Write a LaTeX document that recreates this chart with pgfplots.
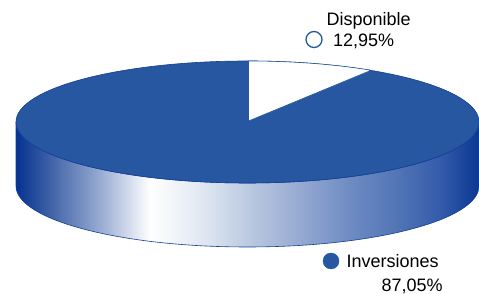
\documentclass[border=0pt]{standalone}
\usepackage{pgfplots}
\pgfplotsset{compat=1.18}
\usepackage{fontspec}
\setmainfont{Liberation Sans}
\definecolor{topblue}{RGB}{38,87,160}
\definecolor{edgeblue}{RGB}{20,62,150}
\definecolor{c0}{RGB}{5,50,145}
\definecolor{c1}{RGB}{60,95,165}
\definecolor{c2}{RGB}{150,170,210}
\definecolor{c4}{RGB}{225,232,242}
\definecolor{c5}{RGB}{195,208,228}
\definecolor{c6}{RGB}{150,170,210}
\definecolor{c7}{RGB}{110,140,195}
\definecolor{c8}{RGB}{80,115,180}
\definecolor{c9}{RGB}{50,90,170}
\definecolor{c10}{RGB}{10,55,145}
\pgfdeclarehorizontalshading{sideshade}{100bp}{color(0bp)=(c0); color(25bp)=(c0); color(28.5bp)=(c1); color(34bp)=(c2); color(39.5bp)=(white); color(45bp)=(c4); color(49bp)=(c5); color(55.5bp)=(c6); color(61bp)=(c7); color(66.5bp)=(c8); color(71bp)=(c9); color(75bp)=(c10); color(100bp)=(c10)}
\begin{document}
\begin{tikzpicture}
\useasboundingbox (0,0) rectangle (479pt,294pt);
\begin{axis}[x=1pt, y=1pt, xmin=0, xmax=479, ymin=0, ymax=294, hide axis, clip=false, at={(0,0)}, anchor=south west]
% side band
\shade[shading=sideshade, draw=edgeblue, line width=0.6pt]
  (axis cs:16,172) -- (axis cs:16,108)
  arc[start angle=180, end angle=360, x radius=231.5, y radius=61]
  -- (axis cs:479,172)
  arc[start angle=0, end angle=-180, x radius=231.5, y radius=61] -- cycle;
% top
\fill[topblue, draw=edgeblue, line width=0.6pt] (axis cs:247.5,172) ellipse[x radius=231.5, y radius=61];
% Disponible wedge (12,95%)
\fill[white, draw=topblue, line width=0.6pt] (axis cs:248.5,173) -- (axis cs:248.5,233)
  arc[start angle=90, end angle=58, x radius=231.5, y radius=61] -- cycle;
% legend markers
\addplot[only marks, mark=o, mark size=8pt, mark options={line width=1.3pt, draw=topblue}] coordinates {(314,254.5)};
\addplot[only marks, mark=*, mark size=8pt, mark options={draw=topblue, fill=topblue}] coordinates {(331,33)};
\node[anchor=base west, font=\fontsize{18}{20}\selectfont, inner sep=0pt] at (axis cs:326.5,268) {Disponible};
\node[anchor=base west, font=\fontsize{18}{20}\selectfont, inner sep=0pt] at (axis cs:333,247) {12,95\%};
\node[anchor=base west, font=\fontsize{18}{20}\selectfont, inner sep=0pt] at (axis cs:346.5,26.7) {Inversiones};
\node[anchor=base west, font=\fontsize{18}{20}\selectfont, inner sep=0pt] at (axis cs:381.5,2.5) {87,05\%};
\end{axis}
\end{tikzpicture}
\end{document}
